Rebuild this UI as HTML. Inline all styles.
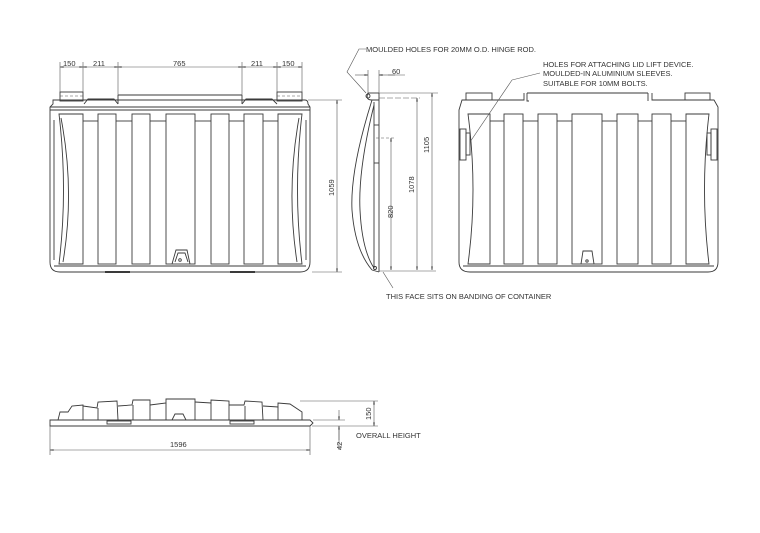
<!DOCTYPE html>
<html><head><meta charset="utf-8"><style>
html,body{margin:0;padding:0;background:#fff;}
svg{display:block;}
text{font-family:"Liberation Sans",sans-serif;font-size:7.5px;fill:#333;}
.l{fill:none;stroke:#3a3a3a;stroke-width:0.9;}
.t{fill:none;stroke:#555;stroke-width:0.6;}
</style></head><body>
<svg width="760" height="533" viewBox="0 0 760 533" xmlns="http://www.w3.org/2000/svg">
<defs>
<marker id="a" viewBox="0 0 10 6" refX="10" refY="3" markerWidth="7" markerHeight="4" orient="auto-start-reverse"><path d="M0,0 L10,3 L0,6 Z" fill="none" stroke="#444" stroke-width="1"/></marker>
</defs>

<!-- LEFT VIEW -->
<g class="l">
  <rect x="60" y="92" width="23" height="9"/>
  <line class="t" x1="60" y1="96" x2="83" y2="96" stroke-dasharray="3,2"/>
  <rect x="277" y="92" width="25" height="9"/>
  <line class="t" x1="277" y1="96" x2="302" y2="96" stroke-dasharray="3,2"/>
  <path d="M84,104 L88,99 L114,99 L118,104"/>
  <path d="M242,104 L246,99 L272,99 L277,104"/>
  <line x1="118" y1="95" x2="242" y2="95"/>
  <line x1="118" y1="95" x2="118" y2="104"/><line x1="242" y1="95" x2="242" y2="104"/>
  <path d="M53,100 L305,100 Q308,100 308,104 L310,107 L310,262 Q310,272 300,272 L60,272 Q50,272 50,262 L50,107 L53,104 Z"/>
  <line x1="50" y1="107" x2="310" y2="107"/>
  <line x1="50" y1="110" x2="310" y2="110"/>
  <line x1="54" y1="120" x2="54" y2="260"/><line x1="306" y1="120" x2="306" y2="260"/>
  <path d="M59,114 L83,114 L83,264 L59,264 Q68,190 59,114 Z"/>
  <path d="M61,118 Q75,190 63,262"/>
  <rect x="98" y="114" width="18" height="150"/>
  <rect x="132" y="114" width="18" height="150"/>
  <rect x="166" y="114" width="29" height="150"/>
  <rect x="211" y="114" width="18" height="150"/>
  <rect x="244" y="114" width="19" height="150"/>
  <path d="M278,114 L302,114 Q293,190 302,264 L278,264 Z"/>
  <path d="M299,118 Q286,190 297,262"/>
  <line x1="83" y1="121" x2="98" y2="121"/><line x1="116" y1="121" x2="132" y2="121"/><line x1="150" y1="121" x2="166" y2="121"/>
  <line x1="195" y1="121" x2="211" y2="121"/><line x1="229" y1="121" x2="244" y2="121"/><line x1="263" y1="121" x2="278" y2="121"/>
  <line x1="54" y1="266" x2="306" y2="266"/>
  <path d="M172,264 L176,250 L187,250 L190,264"/>
  <path d="M175,262 L178,253 L185,253 L188,262"/>
  <circle cx="180" cy="260" r="1.3"/>
  <line x1="105" y1="272" x2="130" y2="272" stroke-width="2"/><line x1="230" y1="272" x2="255" y2="272" stroke-width="2"/>
</g>
<g class="t">
  <line x1="60" y1="62" x2="60" y2="92"/><line x1="83" y1="62" x2="83" y2="92"/>
  <line x1="118" y1="62" x2="118" y2="95"/><line x1="242" y1="62" x2="242" y2="95"/>
  <line x1="277" y1="62" x2="277" y2="92"/><line x1="302" y1="62" x2="302" y2="92"/>
  <line x1="60" y1="67" x2="83" y2="67" marker-start="url(#a)" marker-end="url(#a)"/>
  <line x1="83" y1="67" x2="118" y2="67" marker-start="url(#a)" marker-end="url(#a)"/>
  <line x1="118" y1="67" x2="242" y2="67" marker-start="url(#a)" marker-end="url(#a)"/>
  <line x1="242" y1="67" x2="277" y2="67" marker-start="url(#a)" marker-end="url(#a)"/>
  <line x1="277" y1="67" x2="302" y2="67" marker-start="url(#a)" marker-end="url(#a)"/>
  <line x1="308" y1="100" x2="342" y2="100"/><line x1="312" y1="272" x2="342" y2="272"/>
  <line x1="337" y1="100" x2="337" y2="272" marker-start="url(#a)" marker-end="url(#a)"/>
</g>
<text x="63" y="66">150</text><text x="93" y="66">211</text><text x="173" y="66">765</text><text x="251" y="66">211</text><text x="282" y="66">150</text>
<text transform="translate(334,196) rotate(-90)">1059</text>

<!-- SIDE VIEW -->
<g class="l">
  <line x1="379" y1="93" x2="379" y2="272"/>
  <line x1="368" y1="93" x2="379" y2="93"/>
  <path d="M368,93 Q365,100 372,100 L379,100"/>
  <path d="M372,100 Q350,170 352,210 Q355,250 372,270"/>
  <path d="M374,105 Q358,170 360,210 Q362,250 374,268"/>
  <path d="M372,270 L379,272"/>
  <line x1="374" y1="125" x2="379" y2="125"/><line x1="374" y1="163" x2="379" y2="163"/>
  <line x1="374" y1="102" x2="374" y2="268"/>
  <circle cx="368" cy="96" r="2"/><circle cx="375" cy="268" r="1.5"/>
</g>
<g class="t">
  <line x1="368" y1="70" x2="368" y2="93"/><line x1="379" y1="70" x2="379" y2="93"/>
  <line x1="355" y1="75" x2="368" y2="75" marker-end="url(#a)"/>
  <line x1="395" y1="75" x2="379" y2="75" marker-end="url(#a)"/>
  <line x1="388" y1="75" x2="405" y2="75"/>
  <line x1="379" y1="93" x2="438" y2="93"/>
  <line x1="379" y1="98" x2="420" y2="98" stroke-dasharray="6,2"/>
  <line x1="376" y1="138" x2="395" y2="138" stroke-dasharray="3,2"/>
  <line x1="379" y1="271" x2="436" y2="271"/>
  <line x1="391" y1="138" x2="391" y2="270" marker-start="url(#a)" marker-end="url(#a)"/>
  <line x1="417" y1="98" x2="417" y2="270" marker-start="url(#a)" marker-end="url(#a)"/>
  <line x1="432" y1="93" x2="432" y2="270" marker-start="url(#a)" marker-end="url(#a)"/>
  <path d="M366,49 L359,49 L347,72 L366,93"/>
  <line x1="383" y1="272" x2="393" y2="288"/>
</g>
<text x="366" y="52">MOULDED HOLES FOR 20MM O.D. HINGE ROD.</text>
<text x="392" y="74">60</text>
<text transform="translate(393,218) rotate(-90)">820</text>
<text transform="translate(414,193) rotate(-90)">1078</text>
<text transform="translate(429,153) rotate(-90)">1105</text>
<text x="386" y="299">THIS FACE SITS ON BANDING OF CONTAINER</text>

<!-- RIGHT VIEW -->
<g class="l">
  <rect x="466" y="93" width="26" height="7"/>
  <rect x="685" y="93" width="25" height="7"/>
  <line x1="527" y1="93" x2="648" y2="93"/>
  <path d="M524,93 L524,100 L462,100 L459,110 L459,262 Q459,272 470,272 L708,272 Q718,272 718,262 L718,107 L714,100 L652,100 L652,93"/>
  <path d="M527,93 L527,101 L529,101"/><path d="M648,93 L648,101"/>
  <path d="M468,114 L490,114 L490,264 L468,264 Q478,190 468,114 Z"/>
  <rect x="504" y="114" width="19" height="150"/>
  <rect x="538" y="114" width="19" height="150"/>
  <rect x="572" y="114" width="30" height="150"/>
  <rect x="617" y="114" width="21" height="150"/>
  <rect x="652" y="114" width="19" height="150"/>
  <path d="M686,114 L709,114 Q700,190 709,264 L686,264 Z"/>
  <line x1="490" y1="121" x2="504" y2="121"/><line x1="523" y1="121" x2="538" y2="121"/><line x1="557" y1="121" x2="572" y2="121"/>
  <line x1="602" y1="121" x2="617" y2="121"/><line x1="638" y1="121" x2="652" y2="121"/><line x1="671" y1="121" x2="686" y2="121"/>
  <line x1="463" y1="266" x2="714" y2="266"/>
  <rect x="460" y="129" width="6" height="31"/><rect x="466" y="133" width="4" height="22"/>
  <rect x="711" y="129" width="6" height="31"/><rect x="707" y="133" width="4" height="22"/>
  <path d="M581,264 L583,251 L592,251 L594,264"/>
  <circle cx="587" cy="261" r="1.2"/>
</g>
<line class="t" x1="540" y1="73" x2="512" y2="80"/>
<line class="t" x1="512" y1="80" x2="470" y2="142"/>
<text x="543" y="67">HOLES FOR ATTACHING LID LIFT DEVICE.</text>
<text x="543" y="76">MOULDED-IN ALUMINIUM SLEEVES.</text>
<text x="543" y="86">SUITABLE FOR 10MM BOLTS.</text>

<!-- BOTTOM VIEW -->
<g class="l">
  <path d="M50,426 L50,420 L310,420 L313,423 L310,426 Z"/>
  <line x1="50" y1="426" x2="310" y2="426"/>
  <path d="M58,420 L60,412 L68,412 L72,406 L83,405 L83,420"/>
  <path d="M83,406 L97,408 L98,402 L117,401 L118,420"/>
  <path d="M98,408 L98,420"/>
  <path d="M118,406 L132,405 L133,400 L150,400 L150,420"/>
  <path d="M133,405 L133,420"/>
  <path d="M150,405 L166,403 L166,399 L195,399 L195,420"/>
  <path d="M166,403 L166,420"/>
  <path d="M172,420 L175,414 L183,414 L186,420"/>
  <path d="M195,402 L211,403 L211,400 L229,401 L229,420"/>
  <path d="M211,403 L211,420"/>
  <path d="M229,405 L244,405 L245,401 L262,402 L263,420"/>
  <path d="M245,406 L245,420"/>
  <path d="M263,406 L278,407 L278,403 L290,404 L302,412 L302,420"/>
  <path d="M278,407 L278,420"/>
  <rect x="107" y="421" width="24" height="3"/>
  <rect x="230" y="421" width="24" height="3"/>
</g>
<g class="t">
  <line x1="50" y1="426" x2="50" y2="455"/><line x1="310" y1="426" x2="310" y2="455"/>
  <line x1="50" y1="450" x2="310" y2="450" marker-start="url(#a)" marker-end="url(#a)"/>
  <line x1="300" y1="401" x2="378" y2="401"/>
  <line x1="313" y1="420" x2="345" y2="420"/>
  <line x1="312" y1="426" x2="378" y2="426"/>
  <line x1="374" y1="401" x2="374" y2="426" marker-start="url(#a)" marker-end="url(#a)"/>
  <line x1="339" y1="410" x2="339" y2="420" marker-end="url(#a)"/>
  <line x1="339" y1="440" x2="339" y2="426" marker-end="url(#a)"/>
  <line x1="339" y1="430" x2="339" y2="450"/>
</g>
<text x="170" y="447">1596</text>
<text transform="translate(371,420) rotate(-90)">150</text>
<text transform="translate(342,450) rotate(-90)">42</text>
<text x="356" y="438">OVERALL HEIGHT</text>
</svg>
</body></html>
